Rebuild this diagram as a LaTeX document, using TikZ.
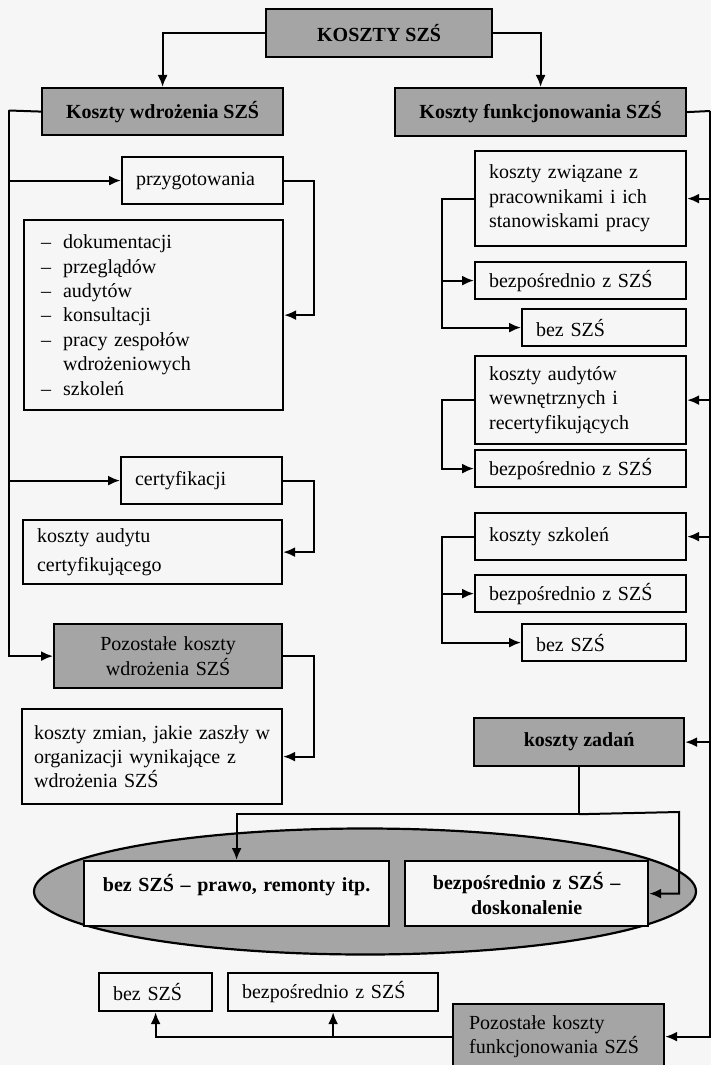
\documentclass[tikz,border=0pt]{standalone}
\usepackage{fontspec}
\setmainfont{Liberation Serif}
\usetikzlibrary{arrows.meta,shapes.geometric}
\definecolor{shadegray}{RGB}{165,165,165}
\definecolor{paper}{RGB}{246,246,246}

\begin{document}
\begin{tikzpicture}[x=0.5pt, y=-0.5pt,
    every node/.style={font=\fontsize{10}{12.2}\selectfont},
    kbox/.style={draw, line width=1.1pt, fill=paper, anchor=north west, inner xsep=7pt, inner ysep=0pt, align=left},
    gbox/.style={draw, line width=1.1pt, fill=shadegray, anchor=north west, inner xsep=7pt, inner ysep=0pt, align=center},
    arr/.style={line width=1pt, -{Latex[length=6pt,width=5pt]}},
    link/.style={line width=1pt}]

    \useasboundingbox (0,0) rectangle (711,1065);
    \fill[paper] (0,0) rectangle (711,1065);
    \clip (0,0) rectangle (711,1065);

    % === Top – 3 boxes ===
    \node[gbox, minimum width=113pt, minimum height=24pt] (root) at (265,8) {\textbf{KOSZTY SZŚ}};
    \node[gbox, minimum width=120.5pt, minimum height=23.5pt] (kw) at (41,87) {\textbf{Koszty wdrożenia SZŚ}};
    \node[gbox, minimum width=145.5pt, minimum height=24pt] (kf) at (394,87) {\textbf{Koszty funkcjonowania SZŚ}};

    \draw[arr] (root.west) -| (kw.north);
    \draw[arr] (root.east) -| (kf.north);

    % === Left column – implementation ===
    \node[kbox, text width=66.5pt, minimum height=23.5pt] (w1) at (121,156) {przygotowania};
    \node[kbox, inner xsep=8.5pt, text width=112.5pt, minimum height=95pt] (w2) at (23,219) {\makebox[11pt][l]{–}dokumentacji\\
        \makebox[11pt][l]{–}przeglądów\\
        \makebox[11pt][l]{–}audytów\\
        \makebox[11pt][l]{–}konsultacji\\
        \makebox[11pt][l]{–}pracy zespołów\\
        \hspace*{11pt}wdrożeniowych\\
        \makebox[11pt][l]{–}szkoleń};
    \node[kbox, text width=66.5pt, minimum height=23.5pt] (w3) at (120,456) {certyfikacji};
    \node[kbox, text width=115.5pt, minimum height=32pt] (w4) at (22,519) {koszty audytu\\[2pt] certyfikującego};
    \node[gbox, text width=100pt, minimum height=32pt] (w5) at (53,623) {Pozostałe koszty\\ wdrożenia SZŚ};
    \node[kbox, inner xsep=6pt, text width=118pt, minimum height=47.5pt] (w6) at (21,708) {\mbox{koszty zmian, jakie zaszły w}\\ organizacji wynikające z\\ wdrożenia SZŚ};

    \coordinate (lr) at (9,110.5);
    \draw[link] (kw.west) -- (lr);
    \draw[arr] (lr) |- (w1.west);
    \draw[arr] (lr) |- (w3.west);
    \draw[arr] (lr) |- (w5.west);
    \draw[arr] (w1.east) -- ++(30,0) |- (w2.east);
    \draw[arr] (w3.east) -- ++(31,0) |- (w4.east);
    \draw[arr] (w5.east) -- ++(31,0) |- (w6.east);

    % === Right column – operation ===
    \node[kbox, text width=91.5pt, minimum height=47.5pt] (f1) at (474,150) {koszty związane z\\ pracownikami i ich\\ stanowiskami pracy};
    \node[kbox, text width=91.5pt, minimum height=18.5pt] (f1a) at (474,261) {bezpośrednio z SZŚ};
    \node[kbox, text width=68pt, minimum height=18.5pt] (f1b) at (521,308) {bez SZŚ};
    \node[kbox, text width=91.5pt, minimum height=44pt] (f2) at (474,355) {koszty audytów\\ wewnętrznych i\\ recertyfikujących};
    \node[kbox, text width=91.5pt, minimum height=18.5pt] (f2a) at (474,449) {bezpośrednio z SZŚ};
    \node[kbox, text width=91.5pt, minimum height=23.5pt] (f3) at (474,512) {koszty szkoleń};
    \node[kbox, text width=91.5pt, minimum height=18.5pt] (f3a) at (474,574) {bezpośrednio z SZŚ};
    \node[kbox, text width=68pt, minimum height=18.5pt] (f3b) at (521,623) {bez SZŚ};
    \node[gbox, minimum width=105pt, minimum height=24pt] (f4) at (473,717) {\textbf{koszty zadań}};
    \node[gbox, align=left, inner xsep=8pt, text width=89.5pt, minimum height=32.5pt] (f5) at (452,1003) {Pozostałe koszty\\ funkcjonowania SZŚ};

    \coordinate (rr) at (710,111);
    \draw[link] (kf.east) -- (rr);
    \draw[arr] (rr) |- (f1.east);
    \draw[arr] (rr) |- (f2.east);
    \draw[arr] (rr) |- (f3.east);
    \draw[arr] (rr) |- (f4.east);
    \draw[arr] (rr) |- (f5.east);

    \draw[arr] (f1.west) -- ++(-32,0) |- (f1a.west);
    \draw[arr] (f1.west) -- ++(-32,0) |- (f1b.west);
    \draw[arr] (f2.west) -- ++(-32,0) |- (f2a.west);
    \draw[arr] (f3.west) -- ++(-32,0) |- (f3a.west);
    \draw[arr] (f3.west) -- ++(-32,0) |- (f3b.west);

    % === Ellipse with the two task boxes ===
    \node[draw, line width=1.1pt, fill=shadegray, ellipse, inner sep=0pt, minimum width=331pt, minimum height=63pt] (oval) at (365,891.5) {};
    \node[kbox, align=center, text width=138.5pt, text depth=11pt, minimum height=32.5pt] (e1) at (83,860) {\textbf{bez SZŚ – prawo, remonty itp.}};
    \node[kbox, align=center, text width=107.5pt, minimum height=32.5pt] (e2) at (404,860) {\textbf{bezpośrednio z SZŚ –}\\ \textbf{doskonalenie}};

    \draw[link] (f4.south) -- ++(0,47) coordinate (zj);
    \coordinate (zr) at (679,812);
    \draw[arr] (zj) -| (e1.north);
    \draw[arr] (zj) -- (zr) |- (e2.east);

    % === Bottom – 2 small boxes ===
    \node[kbox, text width=42.5pt, minimum height=19pt] (b1) at (98,972) {bez SZŚ};
    \node[kbox, text width=91pt, minimum height=19pt] (b2) at (227,972) {bezpośrednio z SZŚ};

    \draw[arr] (f5.west) -| (b1.south);
    \draw[arr] (f5.west) -| (b2.south);
\end{tikzpicture}
\end{document}
